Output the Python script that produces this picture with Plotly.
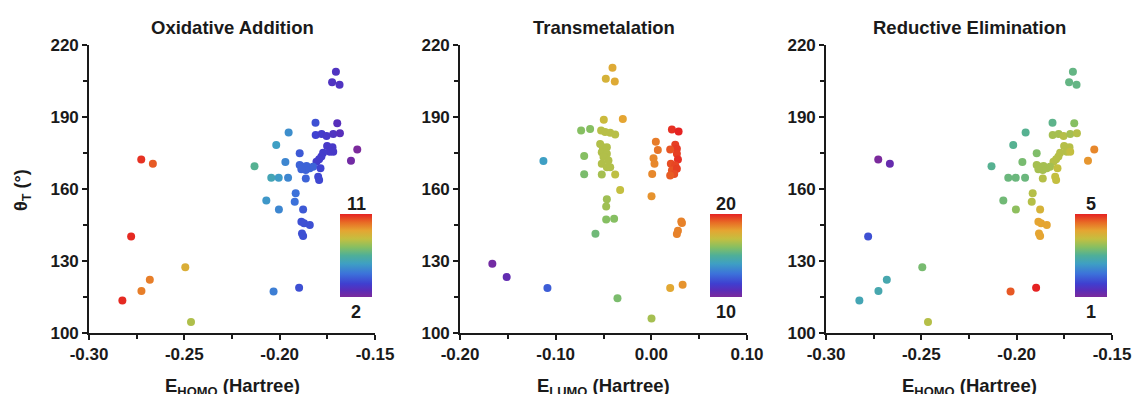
import plotly.graph_objects as go

# ---------------- data ----------------
# Shared by "Oxidative Addition" and "Reductive Elimination" panels
homo = [-0.1705, -0.1725, -0.1686, -0.1812, -0.1698, -0.1953, -0.1811, -0.1780, -0.1754, -0.1719,
        -0.1684, -0.2018, -0.1751, -0.1723, -0.1737, -0.1719, -0.1593, -0.1626, -0.1895, -0.1772,
        -0.1781, -0.1793, -0.1807, -0.1970, -0.1895, -0.1877, -0.1859, -0.1842, -0.1825, -0.1863,
        -0.1886, -0.1786, -0.2044, -0.2005, -0.1956, -0.1863, -0.1798, -0.1793, -0.1916, -0.1921,
        -0.2004, -0.1877, -0.1886, -0.1872, -0.1842, -0.1883, -0.1877, -0.2132, -0.2070, -0.1898,
        -0.2032, -0.2726, -0.2665, -0.2779, -0.2681, -0.2725, -0.2825, -0.2495, -0.2465]
theta = [208.9, 204.5, 203.4, 187.6, 187.4, 183.5, 182.5, 182.9, 182.1, 182.9,
         183.2, 178.3, 177.9, 177.4, 175.5, 175.5, 176.5, 171.8, 174.9, 175.1,
         173.5, 172.4, 171.4, 171.25, 170.0, 169.3, 169.6, 168.6, 169.3, 167.9,
         168.2, 168.6, 164.7, 164.7, 164.7, 164.4, 165.1, 163.75, 158.2, 154.7,
         151.5, 151.5, 146.4, 145.7, 145.0, 141.5, 140.4, 169.5, 155.2, 118.9,
         117.3, 172.3, 170.5, 140.2, 122.2, 117.5, 113.5, 127.4, 104.6]
oa_color = [3.0, 3.0, 3.0, 3.8, 2.8, 5.2, 3.5, 3.3, 3.2, 3.0,
            2.8, 5.6, 3.2, 3.2, 3.2, 3.2, 2.0, 2.2, 4.0, 3.3,
            3.3, 3.3, 3.3, 5.0, 4.2, 4.2, 4.2, 4.2, 4.2, 4.2,
            4.2, 3.5, 5.9, 5.5, 5.0, 4.2, 3.6, 3.6, 4.5, 4.5,
            5.0, 4.0, 3.8, 3.8, 3.8, 3.8, 3.8, 6.6, 5.4, 3.8,
            4.8, 10.8, 10.3, 10.9, 9.8, 9.8, 10.9, 8.9, 8.0]
re_color = [3.15, 3.15, 3.15, 3.1, 3.4, 3.05, 3.6, 3.6, 3.7, 3.6,
            3.7, 3.05, 3.7, 3.7, 3.7, 3.8, 4.4, 4.3, 3.35, 3.7,
            3.7, 3.7, 3.7, 3.3, 3.6, 3.6, 3.6, 3.6, 3.6, 3.6,
            3.6, 3.8, 3.2, 3.2, 3.2, 3.7, 3.8, 3.8, 3.7, 3.7,
            3.45, 4.0, 4.2, 4.2, 4.2, 4.2, 4.2, 3.05, 3.25, 5.0,
            4.7, 1.0, 1.2, 1.8, 2.8, 2.8, 2.75, 3.3, 3.7]

# "Transmetalation" panel
lumo = [-0.0406, -0.0476, -0.0382, -0.0298, -0.0497, -0.0734, -0.0640, -0.0525, -0.0483, -0.0430,
        -0.0378, 0.0215, 0.0285, 0.0047, 0.0068, 0.0023, 0.0033, 0.0009, 0.0002, 0.0250,
        0.0267, 0.0197, 0.0267, 0.0278, 0.0204, 0.0250, 0.0215, 0.0267, 0.0239, 0.0197,
        -0.1128, -0.0702, -0.0702, -0.0535, -0.0507, -0.0465, -0.0518, -0.0465, -0.0500, -0.0448,
        -0.0518, -0.0465, -0.0430, -0.0518, -0.0378, -0.0326, -0.0465, -0.0472, -0.0472, -0.0389,
        -0.0584, 0.0313, 0.0320, 0.0278, 0.0267, -0.1662, -0.1512, -0.1086, -0.0354, 0.0197,
        0.0327, 0.0002]
theta_tm = [210.5, 205.9, 204.8, 189.2, 188.9, 184.4, 185.0, 184.4, 183.7, 183.4,
            182.7, 184.8, 184.0, 179.7, 176.3, 172.8, 170.5, 166.3, 157.0, 178.4,
            176.8, 176.5, 174.7, 172.3, 170.5, 169.8, 167.7, 168.4, 166.3, 165.6,
            171.7, 173.7, 166.1, 178.8, 177.4, 177.4, 175.3, 174.7, 173.3, 171.9,
            170.5, 169.1, 169.1, 166.0, 166.0, 159.6, 155.7, 152.7, 147.3, 147.6,
            141.4, 146.5, 145.8, 142.6, 141.3, 128.9, 123.3, 118.7, 114.5, 118.7,
            120.1, 106.0]
tm_color = [17.8, 17.5, 17.8, 18.0, 17.2, 16.0, 16.0, 16.8, 16.8, 16.8,
            16.8, 19.8, 20.0, 18.7, 18.8, 18.5, 18.5, 18.5, 18.3, 19.6,
            19.7, 19.3, 19.6, 19.8, 19.4, 19.5, 19.3, 19.6, 19.4, 19.2,
            14.0, 16.0, 15.8, 16.7, 16.7, 16.7, 16.7, 16.7, 16.7, 16.7,
            16.7, 16.7, 16.7, 16.5, 16.9, 17.0, 16.4, 16.4, 16.0, 16.0,
            15.6, 18.6, 18.6, 18.6, 18.6, 10.2, 10.6, 12.3, 15.8, 17.9,
            18.3, 16.5]

# tick labels
homo_ticks = [-0.30, -0.25, -0.20, -0.15]
homo_ticktext = ["-0.30", "-0.25", "-0.20", "-0.15"]
lumo_ticks = [-0.20, -0.10, 0.00, 0.10]
lumo_ticktext = ["-0.20", "-0.10", "0.00", "0.10"]
theta_ticks = [100, 130, 160, 190, 220]

panel_titles = ["Oxidative Addition", "Transmetalation", "Reductive Elimination"]
x_titles = ["E<sub>HOMO</sub> (Hartree)", "E<sub>LUMO</sub> (Hartree)", "E<sub>HOMO</sub> (Hartree)"]
cbar_ranges = [(2, 11), (10, 20), (1, 5)]

# ---------------- style ----------------
W, H = 1134, 394
FONT = "Liberation Sans, Arial, sans-serif"
INK = "#1a1a1a"
rainbow = [[0.0, "#7B2A9C"], [0.08, "#5A2DB8"], [0.16, "#3F3FD0"], [0.28, "#3C72DA"],
           [0.40, "#3E9FC4"], [0.50, "#4FAF98"], [0.60, "#86BF62"], [0.70, "#C4BF40"],
           [0.80, "#E5A532"], [0.90, "#E86A25"], [1.0, "#E52222"]]

px = [(89, 375), (460, 747), (826, 1112)]
y_top, y_bot = 45, 333
cbar_x = [340, 710, 1075]
cbar_top, cbar_bot = 214, 297

fig = go.Figure()

panels = [(homo, theta, oa_color), (lumo, theta_tm, tm_color), (homo, theta, re_color)]
xranges = [[-0.30, -0.15], [-0.20, 0.10], [-0.30, -0.15]]
xtickvals = [homo_ticks, lumo_ticks, homo_ticks]
xticktexts = [homo_ticktext, lumo_ticktext, homo_ticktext]
xminor = [0.025, 0.05, 0.025]

for i, (xs, ys, cs) in enumerate(panels):
    n = "" if i == 0 else str(i + 1)
    cmin, cmax = cbar_ranges[i]
    fig.add_trace(go.Scatter(
        x=xs, y=ys, mode="markers",
        xaxis="x" + n, yaxis="y" + n,
        marker=dict(size=8, color=cs, coloraxis="coloraxis" + n, line=dict(width=0)),
        showlegend=False, hoverinfo="x+y",
    ))
    dom_x = [px[i][0] / W, px[i][1] / W]
    dom_y = [1 - y_bot / H, 1 - y_top / H]
    axis_common = dict(showgrid=False, zeroline=False, showline=True, linecolor=INK,
                       linewidth=1.6, ticks="outside", ticklen=5, tickwidth=1.5,
                       tickcolor=INK, automargin=False,
                       tickfont=dict(family=FONT, size=17, color=INK, weight="bold"))
    fig.layout["xaxis" + n] = dict(
        domain=dom_x, range=xranges[i], tickmode="array",
        tickvals=xtickvals[i], ticktext=xticktexts[i], anchor="y" + n,
        minor=dict(tick0=xranges[i][0], dtick=xminor[i], ticklen=4, tickwidth=1.5,
                   tickcolor=INK, ticks="outside"),
        **axis_common)
    fig.layout["yaxis" + n] = dict(
        domain=dom_y, range=[100, 220], tickmode="array", tickvals=theta_ticks,
        anchor="x" + n,
        minor=dict(tick0=100, dtick=15, ticklen=4, tickwidth=1.5, tickcolor=INK, ticks="outside"),
        **axis_common)
    fig.layout["coloraxis" + n] = dict(
        cmin=cmin, cmax=cmax, colorscale=rainbow,
        colorbar=dict(x=cbar_x[i] / W, xanchor="left", y=1 - (cbar_top + cbar_bot) / 2 / H,
                      yanchor="middle", lenmode="pixels", len=cbar_bot - cbar_top,
                      thicknessmode="pixels", thickness=32, outlinewidth=0,
                      xpad=0, ypad=0, showticklabels=False, ticks=""))

    cx = (px[i][0] + px[i][1]) / 2 / W
    fig.add_annotation(text="<b>%s</b>" % panel_titles[i], x=cx, y=1 - 28 / H,
                       xref="paper", yref="paper", showarrow=False,
                       font=dict(family=FONT, size=18.5, color=INK), xanchor="center", yanchor="middle")
    fig.add_annotation(text="<b>%s</b>" % x_titles[i], x=cx, y=1 - 373 / H,
                       xref="paper", yref="paper", showarrow=False,
                       font=dict(family=FONT, size=18.5, color=INK), xanchor="center", yanchor="top")
    ccx = (cbar_x[i] + 16) / W
    fig.add_annotation(text="<b>%d</b>" % cmax, x=ccx, y=1 - 204 / H, xref="paper", yref="paper",
                       showarrow=False, font=dict(family=FONT, size=18, color=INK),
                       xanchor="center", yanchor="middle")
    fig.add_annotation(text="<b>%d</b>" % cmin, x=ccx, y=1 - 312 / H, xref="paper", yref="paper",
                       showarrow=False, font=dict(family=FONT, size=18, color=INK),
                       xanchor="center", yanchor="middle")

fig.add_annotation(text="<b>θ<sub>T</sub> (°)</b>", x=22 / W, y=1 - 190 / H,
                   xref="paper", yref="paper", showarrow=False, textangle=-90,
                   font=dict(family=FONT, size=18, color=INK), xanchor="center", yanchor="middle")

fig.update_layout(width=W, height=H, margin=dict(l=0, r=0, t=0, b=0, autoexpand=False),
                  paper_bgcolor="white", plot_bgcolor="white",
                  font=dict(family=FONT, color=INK))

fig.write_html("out.html")
